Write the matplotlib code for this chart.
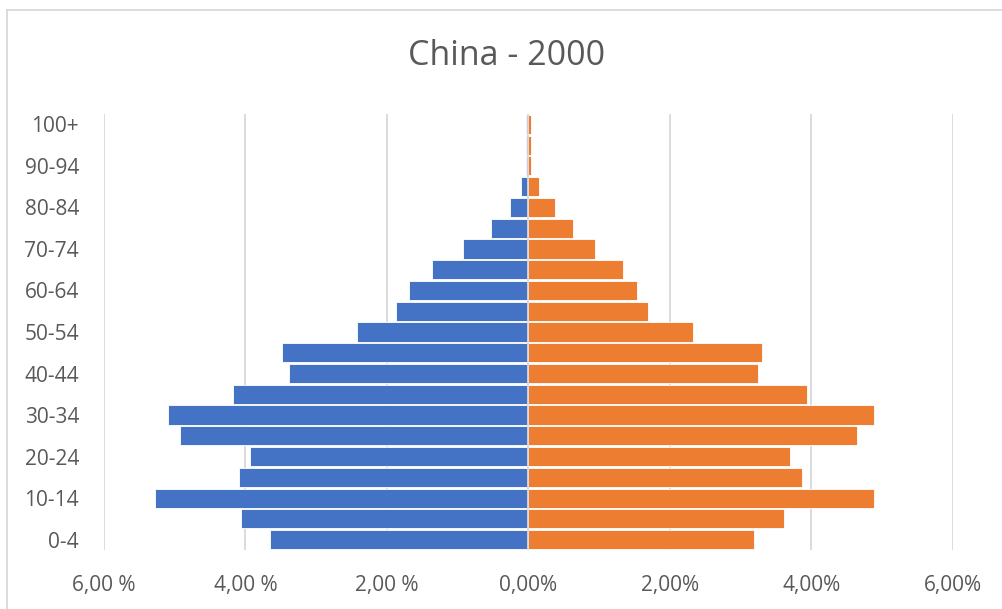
import matplotlib
matplotlib.use("Agg")
import matplotlib.pyplot as plt
from matplotlib.lines import Line2D
import numpy as np

# Age groups, bottom to top
age_groups = ["0-4", "5-9", "10-14", "15-19", "20-24", "25-29", "30-34", "35-39",
              "40-44", "45-49", "50-54", "55-59", "60-64", "65-69", "70-74",
              "75-79", "80-84", "85-89", "90-94", "95-99", "100+"]

# Share of total population (%)
male_pct = [3.66, 4.06, 5.28, 4.09, 3.93, 4.92, 5.09, 4.17, 3.39, 3.49, 2.43,
            1.87, 1.69, 1.36, 0.93, 0.53, 0.26, 0.10, 0.03, 0.03, 0.03]
female_pct = [3.19, 3.61, 4.89, 3.86, 3.69, 4.64, 4.89, 3.93, 3.24, 3.30, 2.32,
              1.69, 1.54, 1.33, 0.94, 0.63, 0.38, 0.15, 0.03, 0.03, 0.03]

x_ticks = [-6, -4, -2, 0, 2, 4, 6]
x_tick_labels = ["6,00 %", "4,00 %", "2,00 %", "0,00%", "2,00%", "4,00%", "6,00%"]

title = "China - 2000"

BLUE = "#4472C4"
ORANGE = "#ED7D31"
GRID = "#D9D9D9"
TEXT = "#595959"
FONT = ["Open Sans", "DejaVu Sans"]

W, H = 1003, 609
fig = plt.figure(figsize=(W / 100, H / 100), dpi=100)
fig.patch.set_facecolor("white")

ax_left, ax_right, ax_top, ax_bottom = 104, 953, 114, 550
ax = fig.add_axes([ax_left / W, 1 - ax_bottom / H,
                   (ax_right - ax_left) / W, (ax_bottom - ax_top) / H])

y = np.arange(len(age_groups))
ax.barh(y, -np.array(male_pct), height=0.92, color=BLUE,
        edgecolor="white", linewidth=0.6, zorder=3)
ax.barh(y, female_pct, height=0.92, color=ORANGE,
        edgecolor="white", linewidth=0.6, zorder=3)

ax.set_xlim(-6, 6)
ax.set_ylim(-0.5, len(age_groups) - 0.5)

ax.set_xticks(x_ticks)
ax.set_xticklabels(x_tick_labels, fontsize=15, color=TEXT, family=FONT)
ax.set_yticks(y[::2])
ax.set_yticklabels(age_groups[::2], fontsize=15, color=TEXT, family=FONT)
ax.tick_params(axis="both", length=0)
ax.tick_params(axis="x", pad=18)
ax.tick_params(axis="y", pad=18)

ax.grid(axis="x", color=GRID, linewidth=1.3, zorder=0)
ax.axvline(0, color=GRID, linewidth=1.3, zorder=4)
for s in ax.spines.values():
    s.set_visible(False)
ax.set_facecolor("white")

fig.text(507 / W, 1 - 56 / H, title, ha="center", va="center",
         fontsize=24.5, color=TEXT, family=FONT)

# Chart area frame (top and left edges)
fig.add_artist(Line2D([7 / W, 1.0], [1 - 10 / H, 1 - 10 / H],
                      transform=fig.transFigure, color=GRID, linewidth=1.3))
fig.add_artist(Line2D([7 / W, 7 / W], [0.0, 1 - 10 / H],
                      transform=fig.transFigure, color=GRID, linewidth=1.3))

fig.savefig("out.png", dpi=100, facecolor="white")
